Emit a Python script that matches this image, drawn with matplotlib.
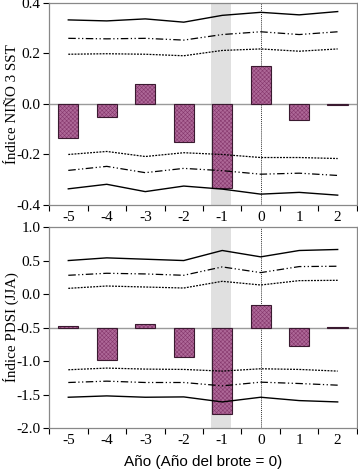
import matplotlib
matplotlib.use("Agg")
import matplotlib.pyplot as plt
import numpy as np

years = [-5, -4, -3, -2, -1, 0, 1, 2]
year_labels = ["-5", "-4", "-3", "-2", "-1", "0", "1", "2"]

# Top panel: NIÑO 3 SST
sst_bars = [-0.133, -0.051, 0.078, -0.151, -0.334, 0.149, -0.064, -0.004]
sst_up_solid = [0.333, 0.329, 0.337, 0.324, 0.351, 0.363, 0.353, 0.366]
sst_up_dashdot = [0.260, 0.258, 0.260, 0.253, 0.275, 0.286, 0.275, 0.286]
sst_up_dot = [0.197, 0.199, 0.197, 0.191, 0.212, 0.218, 0.209, 0.218]
sst_lo_dot = [-0.200, -0.188, -0.208, -0.193, -0.200, -0.212, -0.212, -0.216]
sst_lo_dashdot = [-0.263, -0.247, -0.272, -0.255, -0.264, -0.278, -0.274, -0.283]
sst_lo_solid = [-0.336, -0.318, -0.347, -0.325, -0.337, -0.357, -0.350, -0.361]

# Bottom panel: PDSI (JJA), bars from baseline -0.5
pdsi_base = -0.5
pdsi_bars = [-0.47, -0.98, -0.44, -0.935, -1.79, -0.17, -0.78, -0.495]
pdsi_up_solid = [0.50, 0.54, 0.52, 0.50, 0.65, 0.555, 0.65, 0.665]
pdsi_up_dashdot = [0.28, 0.31, 0.30, 0.28, 0.405, 0.32, 0.41, 0.415]
pdsi_up_dot = [0.085, 0.12, 0.105, 0.09, 0.19, 0.135, 0.20, 0.205]
pdsi_lo_dot = [-1.13, -1.105, -1.12, -1.125, -1.15, -1.115, -1.125, -1.15]
pdsi_lo_dashdot = [-1.32, -1.30, -1.32, -1.32, -1.37, -1.315, -1.335, -1.36]
pdsi_lo_solid = [-1.54, -1.52, -1.54, -1.535, -1.61, -1.54, -1.59, -1.61]

plt.rcParams['font.family'] = ['Liberation Serif', 'DejaVu Serif']
plt.rcParams['hatch.linewidth'] = 0.4

fig = plt.figure(figsize=(3.58, 4.73), dpi=100)
ax1 = fig.add_axes([0.137, 0.5666, 0.860, 0.4271])
ax2 = fig.add_axes([0.137, 0.095, 0.860, 0.425])

bar_face = '#ae6898'
bar_hatch = '#86386d'

def draw(ax, bars, base, lines, ylim, yticks, ylabel, fmt):
    ax.axvspan(-1.28, -0.77, color='#e0e0e0', zorder=0, lw=0)
    ax.axhline(base, color='#9a9a9a', lw=1.0, zorder=1)
    ax.axvline(0, color='#333333', lw=0.7, ls=(0, (1, 1)), zorder=1)
    heights = np.array(bars) - base
    ax.bar(years, heights, bottom=base, width=0.53, facecolor=bar_face,
           edgecolor=bar_hatch, hatch='xxxxxxxx', lw=0.0, zorder=2)
    ax.bar(years, heights, bottom=base, width=0.53, facecolor='none',
           edgecolor='#3a1a30', lw=0.8, zorder=3)
    styles = ['-', (0, (6, 2, 1, 2, 1, 2)), (0, (1.5, 1))]
    for vals, st in zip(lines, styles + styles):
        ax.plot(years, vals, color='black', lw=1.0 if st == '-' else 0.9,
                ls=st, zorder=4)
    ax.set_xlim(-5.5, 2.5)
    ax.set_ylim(*ylim)
    ax.set_yticks(yticks)
    ax.set_yticklabels([fmt % v for v in yticks])
    ax.set_xticks(years)
    ax.set_xticklabels(year_labels)
    ax.set_xticks(np.arange(-5.5, 2.6, 1.0), minor=True)
    ax.tick_params(axis='x', which='major', length=0, labelsize=11, pad=4)
    ax.tick_params(axis='x', which='minor', length=4, width=0.8, direction='out')
    ax.tick_params(axis='y', length=4, width=0.8, direction='out', labelsize=11, pad=2)
    for s in ax.spines.values():
        s.set_color('#888888')
        s.set_linewidth(0.9)
    ax.set_ylabel(ylabel, fontsize=10.8)
    ax.yaxis.set_label_coords(-0.098, 0.5)

draw(ax1, sst_bars, 0.0,
     [sst_up_solid, sst_up_dashdot, sst_up_dot, sst_lo_solid, sst_lo_dashdot, sst_lo_dot],
     (-0.4, 0.4), [-0.4, -0.2, 0.0, 0.2, 0.4], 'Índice NIÑO 3 SST', '%.1f')
draw(ax2, pdsi_bars, pdsi_base,
     [pdsi_up_solid, pdsi_up_dashdot, pdsi_up_dot, pdsi_lo_solid, pdsi_lo_dashdot, pdsi_lo_dot],
     (-2.0, 1.0), [-2.0, -1.5, -1.0, -0.5, 0.0, 0.5, 1.0], 'Índice PDSI (JJA)', '%.1f')

ax2.set_xlabel('Año (Año del brote = 0)', family=['Liberation Sans', 'DejaVu Sans'],
               fontsize=11, labelpad=6)

fig.savefig('out.png', dpi=100)
